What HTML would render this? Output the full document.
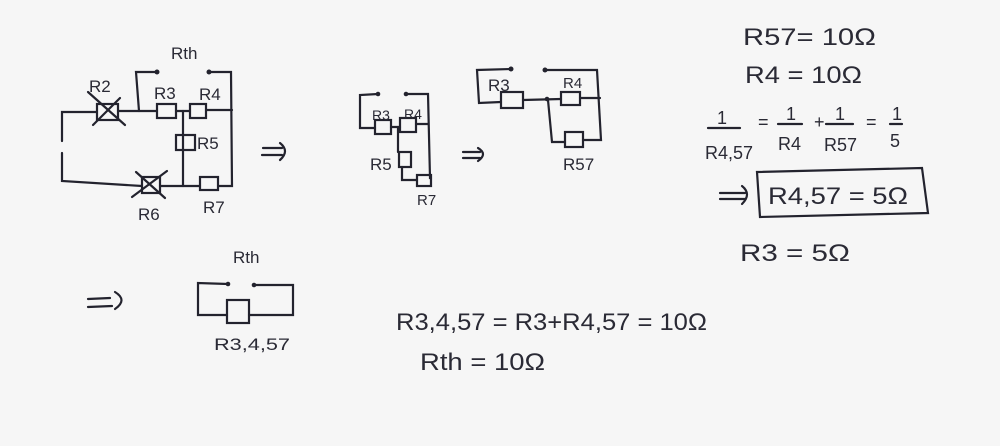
<!DOCTYPE html>
<html><head><meta charset="utf-8"><style>
html,body{margin:0;padding:0;background:#f6f6f6;}
svg{display:block}
text{font-family:"Liberation Sans",sans-serif;fill:#2a2a35;}
</style></head><body>
<svg width="1000" height="446" viewBox="0 0 1000 446" xmlns="http://www.w3.org/2000/svg">
<rect width="1000" height="446" fill="#f6f6f6"/>
<g stroke="#23232e" stroke-width="2.2" fill="none" stroke-linecap="round">
<polyline points="62,141 62,112 97,112"/>
<polyline points="62,153 62,181 142,186"/>
<rect x="97" y="104" width="21" height="16"/>
<line x1="88" y1="92" x2="125" y2="125"/><line x1="93" y1="125" x2="120" y2="98"/>
<line x1="118" y1="111" x2="157" y2="111"/>
<polyline points="139,111 136,72 157,72"/>
<rect x="157" y="104" width="19" height="14"/>
<line x1="176" y1="111" x2="190" y2="111"/>
<rect x="190" y="104" width="16" height="14"/>
<line x1="206" y1="110" x2="232" y2="110"/>
<polyline points="209,72 231,72 232,186 219,186"/>
<line x1="183" y1="111" x2="183" y2="186"/>
<rect x="176" y="135" width="19" height="15"/>
<rect x="142" y="177" width="18" height="16"/>
<line x1="132" y1="197" x2="167" y2="171"/><line x1="136" y1="172" x2="165" y2="198"/>
<line x1="160" y1="186" x2="200" y2="186"/>
<rect x="200" y="177" width="18" height="13"/>
<line x1="263" y1="148" x2="282" y2="148"/><line x1="262" y1="155" x2="282" y2="155"/><path d="M280,143 Q290,151 280,160"/>
<polyline points="378,94 360,95 360,128 375,128"/>
<rect x="375" y="120" width="16" height="14"/>
<line x1="391" y1="127" x2="400" y2="127"/>
<rect x="400" y="118" width="16" height="14"/>
<line x1="416" y1="124" x2="428" y2="124"/>
<polyline points="406,94 428,94 430,178 431,178"/>
<line x1="398" y1="127" x2="398" y2="152"/>
<rect x="399" y="152" width="12" height="15"/>
<polyline points="402,167 402,180 417,180"/>
<rect x="417" y="175" width="14" height="11"/>
<line x1="463" y1="152" x2="480" y2="152"/><line x1="463" y1="158" x2="480" y2="158"/><path d="M478,148 Q488,154 478,161"/>
<polyline points="511,69 477,70 479,103 501,102"/>
<rect x="501" y="92" width="22" height="16"/>
<line x1="523" y1="100" x2="561" y2="99"/>
<rect x="561" y="92" width="19" height="13"/>
<line x1="580" y1="98" x2="600" y2="98"/>
<polyline points="545,70 597,70 601,140 583,140"/>
<polyline points="548,100 552,142 565,142"/>
<rect x="565" y="132" width="18" height="15"/>
<line x1="708" y1="128" x2="740" y2="128"/>
<line x1="778" y1="124" x2="802" y2="124"/>
<line x1="826" y1="124" x2="853" y2="124"/>
<line x1="890" y1="124" x2="902" y2="124"/>
<path d="M757,172 L922,168 L928,213 L760,217 Z"/>
<line x1="720" y1="193" x2="745" y2="193"/><line x1="720" y1="199" x2="745" y2="199"/><path d="M742,186 Q752,194 742,204"/>
<line x1="88" y1="299" x2="110" y2="298"/><line x1="88" y1="307" x2="112" y2="306"/><path d="M115,292 Q128,300 115,309"/>
<polyline points="228,284 198,283 198,315 227,315"/>
<rect x="227" y="300" width="22" height="23"/>
<polyline points="249,315 293,315 293,285 254,285"/>
</g>
<g fill="#23232e">
<circle cx="157" cy="72" r="2.5"/><circle cx="209" cy="72" r="2.5"/>
<circle cx="378" cy="94" r="2.3"/><circle cx="406" cy="94" r="2.3"/>
<circle cx="511" cy="69" r="2.5"/><circle cx="545" cy="70" r="2.5"/><circle cx="547" cy="99" r="2.3"/>
<circle cx="228" cy="284" r="2.3"/><circle cx="254" cy="285" r="2.3"/>
</g>
<g font-size="17">
<text x="171" y="59">Rth</text>
<text x="89" y="92">R2</text>
<text x="154" y="99">R3</text>
<text x="199" y="100">R4</text>
<text x="197" y="149">R5</text>
<text x="203" y="213">R7</text>
<text x="138" y="220">R6</text>
<text x="372" y="120" font-size="14">R3</text>
<text x="404" y="119" font-size="14">R4</text>
<text x="370" y="170">R5</text>
<text x="417" y="205" font-size="15">R7</text>
<text x="488" y="91">R3</text>
<text x="563" y="88" font-size="15">R4</text>
<text x="563" y="170">R57</text>
<text x="233" y="263">Rth</text>
<text x="214" y="350" textLength="76" lengthAdjust="spacingAndGlyphs">R3,4,57</text>
</g>
<g font-size="24">
<text x="743" y="45" textLength="133" lengthAdjust="spacingAndGlyphs">R57= 10Ω</text>
<text x="745" y="83" textLength="117" lengthAdjust="spacingAndGlyphs">R4 = 10Ω</text>
<text x="717" y="124" font-size="18">1</text>
<text x="705" y="159" font-size="18">R4,57</text>
<text x="758" y="128" font-size="18">=</text>
<text x="786" y="120" font-size="18">1</text>
<text x="778" y="150" font-size="18">R4</text>
<text x="814" y="128" font-size="18">+</text>
<text x="835" y="120" font-size="18">1</text>
<text x="824" y="151" font-size="18">R57</text>
<text x="866" y="128" font-size="18">=</text>
<text x="892" y="120" font-size="18">1</text>
<text x="890" y="147" font-size="18">5</text>
<text x="768" y="204" textLength="140" lengthAdjust="spacingAndGlyphs">R4,57 = 5Ω</text>
<text x="740" y="261" textLength="110" lengthAdjust="spacingAndGlyphs">R3 = 5Ω</text>
<text x="396" y="330" textLength="311" lengthAdjust="spacingAndGlyphs">R3,4,57 = R3+R4,57 = 10Ω</text>
<text x="420" y="370" textLength="125" lengthAdjust="spacingAndGlyphs">Rth = 10Ω</text>
</g>
</svg>
</body></html>
